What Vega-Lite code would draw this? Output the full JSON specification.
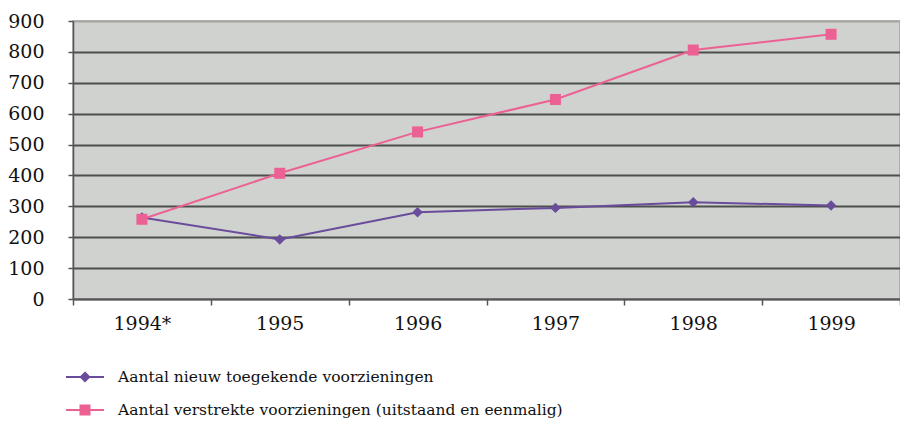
{
  "$schema": "https://vega.github.io/schema/vega-lite/v6.json",
  "autosize": {"type": "none"},
  "padding": {"left": 73, "top": 21, "right": 0, "bottom": 124},
  "width": 827,
  "height": 278,
  "background": "white",
  "config": {
    "view": {"fill": "#d0d2cf", "stroke": "#a3a5a2", "strokeWidth": 1.5}
  },
  "data": {
    "values": [
      {"jaar": "1994*", "reeks": "Aantal nieuw toegekende voorzieningen", "aantal": 264},
      {"jaar": "1995", "reeks": "Aantal nieuw toegekende voorzieningen", "aantal": 193},
      {"jaar": "1996", "reeks": "Aantal nieuw toegekende voorzieningen", "aantal": 281},
      {"jaar": "1997", "reeks": "Aantal nieuw toegekende voorzieningen", "aantal": 295},
      {"jaar": "1998", "reeks": "Aantal nieuw toegekende voorzieningen", "aantal": 313},
      {"jaar": "1999", "reeks": "Aantal nieuw toegekende voorzieningen", "aantal": 303},
      {"jaar": "1994*", "reeks": "Aantal verstrekte voorzieningen (uitstaand en eenmalig)", "aantal": 258},
      {"jaar": "1995", "reeks": "Aantal verstrekte voorzieningen (uitstaand en eenmalig)", "aantal": 407},
      {"jaar": "1996", "reeks": "Aantal verstrekte voorzieningen (uitstaand en eenmalig)", "aantal": 541},
      {"jaar": "1997", "reeks": "Aantal verstrekte voorzieningen (uitstaand en eenmalig)", "aantal": 646},
      {"jaar": "1998", "reeks": "Aantal verstrekte voorzieningen (uitstaand en eenmalig)", "aantal": 806},
      {"jaar": "1999", "reeks": "Aantal verstrekte voorzieningen (uitstaand en eenmalig)", "aantal": 857}
    ]
  },
  "encoding": {
    "x": {
      "field": "jaar",
      "type": "ordinal",
      "sort": ["1994*", "1995", "1996", "1997", "1998", "1999"],
      "scale": {"type": "band", "paddingInner": 0, "paddingOuter": 0},
      "axis": {
        "title": null,
        "labelAngle": 0,
        "labelFont": "DejaVu Serif",
        "labelFontSize": 19,
        "labelColor": "#111111",
        "labelPadding": 9,
        "tickBand": "extent",
        "tickSize": 6,
        "tickColor": "#555555",
        "tickWidth": 1.5,
        "domainColor": "#555555",
        "domainWidth": 1.5,
        "grid": false
      }
    },
    "y": {
      "field": "aantal",
      "type": "quantitative",
      "scale": {"domain": [0, 900], "nice": false},
      "axis": {
        "title": null,
        "values": [0, 100, 200, 300, 400, 500, 600, 700, 800, 900],
        "labelFont": "DejaVu Serif",
        "labelFontSize": 19,
        "labelColor": "#111111",
        "labelPadding": 24,
        "tickSize": 5,
        "tickColor": "#555555",
        "tickWidth": 1.5,
        "domainColor": "#555555",
        "domainWidth": 1.5,
        "grid": true,
        "gridColor": {"condition": {"test": "datum.value === 900", "value": "#a3a5a2"}, "value": "#4d4f4c"},
        "gridWidth": 1.8
      }
    },
    "color": {
      "field": "reeks",
      "type": "nominal",
      "scale": {
        "domain": ["Aantal nieuw toegekende voorzieningen", "Aantal verstrekte voorzieningen (uitstaand en eenmalig)"],
        "range": ["#6a4c9c", "#ec6194"]
      },
      "legend": {
        "title": null,
        "orient": "none",
        "legendX": 1,
        "legendY": 345,
        "direction": "vertical",
        "labelFont": "DejaVu Serif",
        "labelFontSize": 15.5,
        "labelColor": "#111111",
        "labelOffset": 22,
        "symbolSize": 400,
        "symbolStrokeWidth": 2,
        "rowPadding": 13,
        "labelLimit": 800,
        "encoding": {
          "symbols": {
            "shape": {"condition": {"test": "datum.value === 'Aantal nieuw toegekende voorzieningen'", "value": "M-1.9,0L1.9,0M0,-0.42L0.42,0L0,0.42L-0.42,0Z"}, "value": "M-1.9,0L1.9,0M-0.45,-0.45L0.45,-0.45L0.45,0.45L-0.45,0.45Z"},
            "fill": {"condition": {"test": "datum.value === 'Aantal nieuw toegekende voorzieningen'", "value": "#6a4c9c"}, "value": "#ec6194"},
            "stroke": {"condition": {"test": "datum.value === 'Aantal nieuw toegekende voorzieningen'", "value": "#6a4c9c"}, "value": "#ec6194"},
            "strokeWidth": {"value": 2},
            "opacity": {"value": 1}
          }
        }
      }
    }
  },
  "layer": [
    {"mark": {"type": "line", "strokeWidth": 2}},
    {
      "transform": [{"filter": "datum.reeks === 'Aantal nieuw toegekende voorzieningen'"}],
      "mark": {"type": "point", "filled": true, "opacity": 1, "shape": "diamond", "size": 110}
    },
    {
      "transform": [{"filter": "datum.reeks === 'Aantal verstrekte voorzieningen (uitstaand en eenmalig)'"}],
      "mark": {"type": "point", "filled": true, "opacity": 1, "shape": "square", "size": 121}
    }
  ]
}
